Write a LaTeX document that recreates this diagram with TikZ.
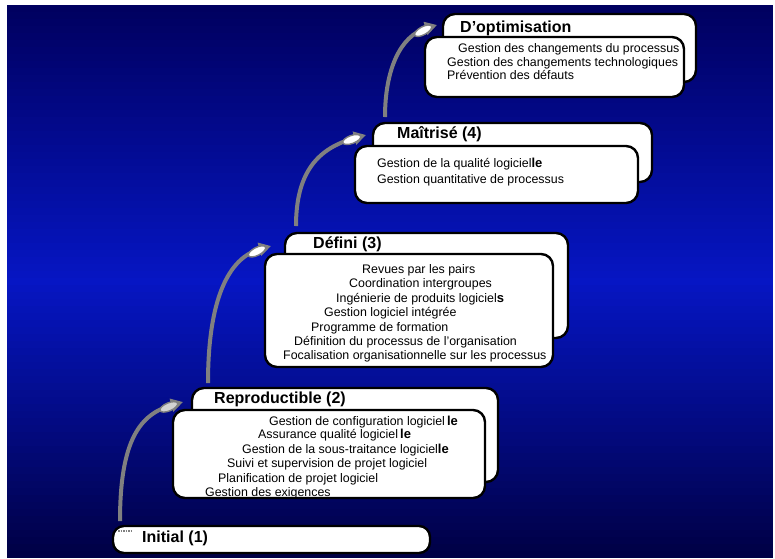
\documentclass[tikz,border=0pt]{standalone}
\usepackage{fontspec}
\setmainfont{Liberation Sans}
\usetikzlibrary{arrows.meta,decorations.markings}
\definecolor{arrowgray}{RGB}{128,128,128}
\definecolor{bgtop}{RGB}{0,0,96}
\definecolor{bgmid}{RGB}{6,22,196}
\definecolor{bgbot}{RGB}{0,0,70}
\newcommand\lebig{\fontsize{13}{14}\selectfont\bfseries}
\begin{document}
\begin{tikzpicture}[x=1pt,y=-1pt,
  stairbox/.style={draw=black, line width=2.4pt, fill=white, rounded corners=12pt, inner sep=0pt},
  ttl/.style={anchor=base west, inner sep=0pt, font=\fontsize{16}{18}\selectfont\bfseries, text=black},
  itm/.style={anchor=base west, inner sep=0pt, font=\fontsize{12.4}{14}\selectfont, text=black},
  uparrow/.style={draw=arrowgray, line width=4pt, -{Triangle[length=12pt,width=13pt]},
    postaction={decorate},
    decoration={markings, mark=at position -15pt with {\filldraw[draw=arrowgray, fill=#1, line width=1.4pt] (0,0) ellipse (9.5pt and 4pt);}}},
  uparrow/.default=white
]
\useasboundingbox (0,0) rectangle (775,558);
% background gradient in strips
\foreach \i in {0,...,78} {
  \pgfmathsetmacro\ya{5+\i*7}
  \pgfmathsetmacro\yb{\ya+7.6}
  \pgfmathsetmacro\t{\i/78}
  \ifdim \t pt < 0.5pt
    \pgfmathsetmacro\p{int(200*\t)}
    \fill[bgmid!\p!bgtop] (7,\ya) rectangle (773,\yb);
  \else
    \pgfmathsetmacro\p{int(200*(1-\t))}
    \fill[bgmid!\p!bgbot] (7,\ya) rectangle (773,\yb);
  \fi
}
\fill[white] (0,558) rectangle (775,570);

% arrows
\coordinate (a1s) at (120,521); \coordinate (a1e) at (183,402);
\coordinate (a2s) at (208,383); \coordinate (a2e) at (271,246);
\coordinate (a3s) at (296,226); \coordinate (a3e) at (366,135);
\coordinate (a4s) at (385,117); \coordinate (a4e) at (437,25);
\draw[uparrow=gray!35] (a1s) .. controls (120,440) and (140,414) .. (a1e);
\draw[uparrow] (a2s) .. controls (208,300) and (228,258) .. (a2e);
\draw[uparrow] (a3s) .. controls (296,172) and (318,148) .. (a3e);
\draw[uparrow] (a4s) .. controls (385,70) and (400,36) .. (a4e);

% D'optimisation
\node[stairbox, minimum width=253pt, minimum height=68pt] (optB) at (569.5,48) {};
\node[stairbox, minimum width=259pt, minimum height=60pt] (optF) at (554.5,67) {};
\node[ttl] (t5) at (460,32.5) {D’optimisation};
\node[itm] (o1) at (458,52) {Gestion des changements du processus};
\node[itm] (o2) at (447,66) {Gestion des changements technologiques};
\node[itm] (o3) at (447,79) {Prévention des défauts};

% Maitrise
\node[stairbox, minimum width=279pt, minimum height=59pt] (maiB) at (512.5,152.5) {};
\node[stairbox, minimum width=283pt, minimum height=57pt] (maiF) at (496.5,174.5) {};
\node[ttl] (t4) at (397,138.5) {Maîtrisé (4)};
\node[itm] (m1) at (377,167) {Gestion de la qualité logiciel{\lebig le}};
\node[itm] (m2) at (377,183) {Gestion quantitative de processus};

% Defini
\node[stairbox, minimum width=283pt, minimum height=105pt] (defB) at (426.5,285.5) {};
\node[stairbox, minimum width=288pt, minimum height=113pt] (defF) at (409,310.5) {};
\node[ttl] (t3) at (313,248.5) {Défini (3)};
\node[itm] (d1) at (362,273) {Revues par les pairs};
\node[itm] (d2) at (349,287) {Coordination intergroupes};
\node[itm] (d3) at (336,302) {Ingénierie de produits logiciel{\lebig s}};
\node[itm] (d4) at (324,316) {Gestion logiciel intégrée};
\node[itm] (d5) at (311,331) {Programme de formation};
\node[itm] (d6) at (294,345) {Définition du processus de l’organisation};
\node[itm] (d7) at (283,359) {Focalisation organisationnelle sur les processus};

% Reproductible
\node[stairbox, minimum width=306pt, minimum height=94pt] (repB) at (345,435) {};
\node[stairbox, minimum width=312pt, minimum height=88pt] (repF) at (329,454) {};
\node[ttl] (t2) at (214,403.5) {Reproductible (2)};
\node[itm] (r1) at (269,425) {Gestion de configuration logiciel\,{\lebig le}};
\node[itm] (r2) at (258,438) {Assurance qualité logiciel\,{\lebig le}};
\node[itm] (r3) at (242,453) {Gestion de la sous-traitance logiciel{\lebig le}};
\node[itm] (r4) at (227,467) {Suivi et supervision de projet logiciel};
\node[itm] (r5) at (218,482) {Planification de projet logiciel};
\node[itm] (r6) at (205,496) {Gestion des exigences};

% Initial
\node[stairbox, rounded corners=11pt, minimum width=317pt, minimum height=27pt] (ini) at (271.5,539.5) {};
\draw[arrowgray, line width=1.5pt, densely dotted] (118,531) -- (131,531);
\node[ttl] (t1) at (142,542.5) {Initial (1)};
\end{tikzpicture}
\end{document}
